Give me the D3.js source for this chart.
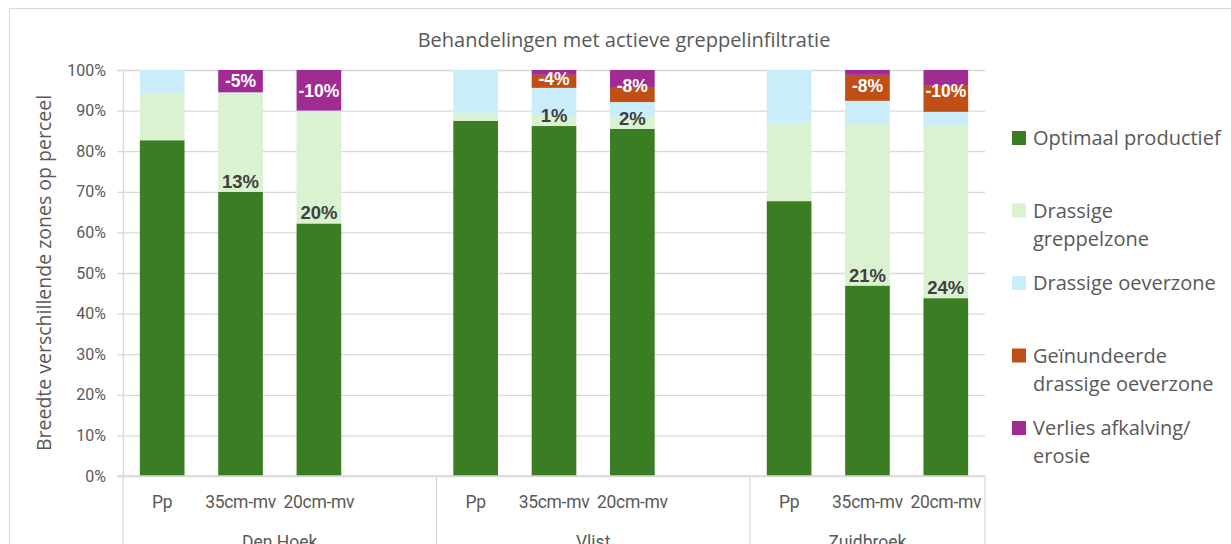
<!DOCTYPE html>
<html>
<head>
<meta charset="utf-8">
<script src="https://cdn.jsdelivr.net/npm/d3@7"></script>
<style>
  body { margin: 0; background: #fff; }
  svg { display: block; }
</style>
</head>
<body>
<div id="canvas"></div>
<script>
"use strict"

let svgWidth = 1231
let svgHeight = 544

// Sites and treatments (category levels)
let groups = ["Den Hoek", "Vlist", "Zuidbroek"]
let treatments = ["Pp", "35cm-mv", "20cm-mv"]

// Series values in % (order: Den Hoek Pp,35,20 | Vlist Pp,35,20 | Zuidbroek Pp,35,20)
let optimaal = [82.7, 70.0, 62.2, 87.5, 86.2, 85.5, 67.7, 46.9, 43.8]
let greppelzone = [11.6, 24.2, 27.4, 1.7, 2.7, 3.0, 19.3, 39.8, 42.4]
let oeverzone = [5.7, 0.3, 0.4, 10.8, 6.7, 3.6, 13.0, 5.7, 3.5]
let geinundeerd = [0, 0, 0, 0, 3.2, 3.5, 0, 6.4, 6.4]
let verlies = [0, 5.5, 10.0, 0, 1.2, 4.4, 0, 1.2, 3.9]

// Data labels as shown on the chart
let diffLabels = ["", "13%", "20%", "", "1%", "2%", "", "21%", "24%"]
let lossLabels = ["", "-5%", "-10%", "", "-4%", "-8%", "", "-8%", "-10%"]

let yTicks = [0, 10, 20, 30, 40, 50, 60, 70, 80, 90, 100]

let seriesNames = ["Optimaal productief", "Drassige greppelzone", "Drassige oeverzone",
    "Geïnundeerde drassige oeverzone", "Verlies afkalving/ erosie"]
let legendLines = [["Optimaal productief"], ["Drassige", "greppelzone"], ["Drassige oeverzone"],
    ["Geïnundeerde", "drassige oeverzone"], ["Verlies afkalving/", "erosie"]]
let seriesColors = ["#3A7D22", "#DAF2D0", "#CAEDFB", "#C04F15", "#A02B93"]

let plot = { left: 123, right: 985, top: 70, bottom: 476 }
let gridColor = "#d9d9d9"
let textColor = "#595959"

let svg = d3.select("#canvas")
    .append("svg")
    .attr("width", svgWidth)
    .attr("height", svgHeight)

// chart border
svg.append("rect")
    .attr("x", 9.5)
    .attr("y", 8.5)
    .attr("width", svgWidth + 20)
    .attr("height", svgHeight + 20)
    .attr("fill", "none")
    .attr("stroke", gridColor)

// build rows: one per bar, with empty slots after each site except the last
let rows = []
let slots = []
let k = 0
groups.forEach(function (g, gi) {
    treatments.forEach(function (t) {
        let key = g + "|" + t
        slots.push(key)
        rows.push({
            key: key, group: g, treatment: t,
            s0: optimaal[k], s1: greppelzone[k], s2: oeverzone[k], s3: geinundeerd[k], s4: verlies[k],
            diff: diffLabels[k], loss: lossLabels[k]
        })
        k++
    })
    if (gi < groups.length - 1) slots.push(g + "|gap")
})

let xScale = d3.scaleBand()
    .domain(slots)
    .range([plot.left, plot.right])
    .paddingInner(0.43)
    .paddingOuter(0.215)

let yScale = d3.scaleLinear()
    .domain([0, 100])
    .range([plot.bottom, plot.top])

// gridlines
svg.append("g")
    .attr("transform", `translate(${plot.left},0)`)
    .call(d3.axisLeft(yScale).tickValues(yTicks).tickSize(-(plot.right - plot.left)).tickFormat(""))
    .call(g => g.select(".domain").remove())
    .call(g => g.selectAll("line").attr("stroke", gridColor).attr("stroke-width", 1.3))

// y axis with small outside ticks
svg.append("g")
    .attr("transform", `translate(${plot.left},0)`)
    .call(d3.axisLeft(yScale).tickValues(yTicks).tickSize(6).tickPadding(11).tickFormat(d => d + "%"))
    .call(g => g.select(".domain").attr("stroke", gridColor).attr("stroke-width", 1.3))
    .call(g => g.selectAll("line").attr("stroke", gridColor).attr("stroke-width", 1.3))
    .call(g => g.selectAll("text")
        .attr("fill", textColor)
        .style("font-family", "Roboto, sans-serif")
        .style("font-size", "16px"))

// stacked bars
let keys = ["s0", "s1", "s2", "s3", "s4"]
let stacked = d3.stack().keys(keys)(rows)

svg.append("g")
    .selectAll("g")
    .data(stacked)
    .join("g")
    .attr("fill", (d, i) => seriesColors[i])
    .selectAll("rect")
    .data(d => d)
    .join("rect")
    .attr("x", d => xScale(d.data.key))
    .attr("width", xScale.bandwidth())
    .attr("y", d => yScale(d[1]))
    .attr("height", d => yScale(d[0]) - yScale(d[1]))

// difference labels just above the green segment
svg.append("g")
    .selectAll("text")
    .data(rows.filter(d => d.diff))
    .join("text")
    .attr("x", d => xScale(d.key) + xScale.bandwidth() / 2)
    .attr("y", d => yScale(d.s0) - 4)
    .attr("text-anchor", "middle")
    .attr("fill", "#404040")
    .style("font-family", "'Liberation Sans', Arial, sans-serif")
    .style("font-weight", "bold")
    .style("font-size", "18.5px")
    .text(d => d.diff)

// loss labels centred in the top (orange + purple) part
svg.append("g")
    .selectAll("text")
    .data(rows.filter(d => d.loss))
    .join("text")
    .attr("x", d => xScale(d.key) + xScale.bandwidth() / 2)
    .attr("y", d => (yScale(100) + yScale(100 - d.s3 - d.s4)) / 2)
    .attr("dy", "0.36em")
    .attr("text-anchor", "middle")
    .attr("fill", "#ffffff")
    .style("font-family", "'Liberation Sans', Arial, sans-serif")
    .style("font-weight", "bold")
    .style("font-size", "17.5px")
    .text(d => d.loss)

// category axis: baseline, separators and labels
let axisG = svg.append("g")
axisG.append("line")
    .attr("x1", plot.left - 6).attr("x2", plot.right)
    .attr("y1", plot.bottom).attr("y2", plot.bottom)
    .attr("stroke", gridColor).attr("stroke-width", 1.3)

let groupEdges = groups.map(function (g) {
    let first = xScale(g + "|" + treatments[0]) - xScale.step() * xScale.paddingInner() / 2
    let last = xScale(g + "|" + treatments[treatments.length - 1]) + xScale.bandwidth() + xScale.step() * xScale.paddingInner() / 2
    let gapKey = g + "|gap"
    if (slots.indexOf(gapKey) >= 0) last = xScale(gapKey) + xScale.bandwidth() + xScale.step() * xScale.paddingInner() / 2
    return { group: g, x0: first, x1: last }
})

let sepX = [plot.left].concat(groupEdges.map(d => d.x1))
axisG.selectAll("line.sep")
    .data(sepX)
    .join("line")
    .attr("class", "sep")
    .attr("x1", d => d).attr("x2", d => d)
    .attr("y1", plot.bottom).attr("y2", svgHeight + 5)
    .attr("stroke", gridColor).attr("stroke-width", 1.3)

axisG.selectAll("text.cat")
    .data(rows)
    .join("text")
    .attr("class", "cat")
    .attr("x", d => xScale(d.key) + xScale.bandwidth() / 2)
    .attr("y", 508)
    .attr("text-anchor", "middle")
    .attr("fill", textColor)
    .style("font-family", "Roboto, sans-serif")
    .style("font-size", "17.5px")
    .style("letter-spacing", "-0.3px")
    .text(d => d.treatment)

axisG.selectAll("text.grp")
    .data(groupEdges)
    .join("text")
    .attr("class", "grp")
    .attr("x", d => (d.x0 + d.x1) / 2)
    .attr("y", 548)
    .attr("text-anchor", "middle")
    .attr("fill", textColor)
    .style("font-family", "Roboto, sans-serif")
    .style("font-size", "17.5px")
    .text(d => d.group)

// title
svg.append("text")
    .attr("x", 624)
    .attr("y", 47)
    .attr("text-anchor", "middle")
    .attr("fill", textColor)
    .style("font-family", "'Open Sans', sans-serif")
    .style("font-size", "20px")
    .text("Behandelingen met actieve greppelinfiltratie")

// y axis title
svg.append("text")
    .attr("transform", `translate(51, ${(plot.top + plot.bottom) / 2}) rotate(-90)`)
    .attr("text-anchor", "middle")
    .attr("fill", textColor)
    .style("font-family", "'Open Sans', sans-serif")
    .style("font-size", "19.5px")
    .text("Breedte verschillende zones op perceel")

// legend
let legendY = d3.scalePoint().domain(seriesNames).range([138, 428])
let legend = svg.append("g")
    .selectAll("g")
    .data(seriesNames)
    .join("g")
    .attr("transform", d => `translate(1012, ${legendY(d)})`)

legend.append("rect")
    .attr("x", 0).attr("y", -7)
    .attr("width", 14).attr("height", 14)
    .attr("fill", (d, i) => seriesColors[i])

legend.each(function (d, i) {
    let t = d3.select(this).append("text")
        .attr("x", 21)
        .attr("y", 0)
        .attr("fill", textColor)
        .style("font-family", "'Open Sans', sans-serif")
        .style("font-size", "20px")
    legendLines[i].forEach(function (line, j) {
        t.append("tspan")
            .attr("x", 21)
            .attr("y", j * 28)
            .attr("dy", "0.35em")
            .text(line)
    })
})
</script>
</body>
</html>
